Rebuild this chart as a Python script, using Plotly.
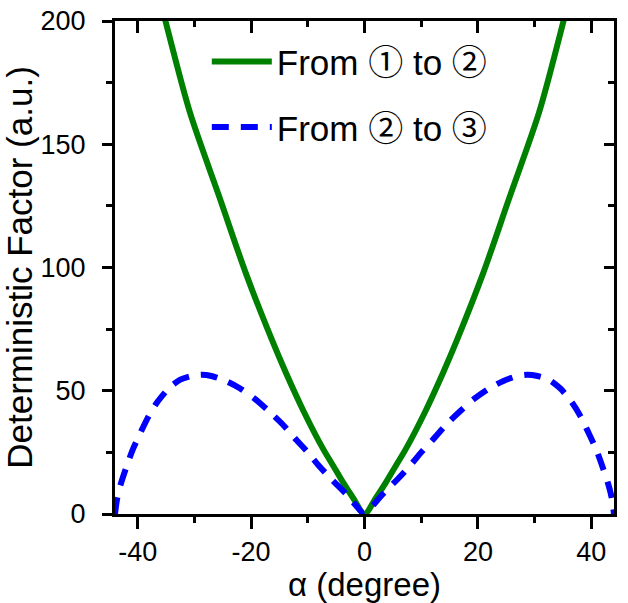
import plotly.graph_objects as go

# Data (symmetric curves, listed for alpha >= 0)
alpha_green = [0, 2, 3.7, 5.5, 7.2, 10.7, 13.9, 16.3, 20.9, 25.5, 30.8, 35.1, 36.5]
factor_green = [0, 6.5, 12.5, 19.5, 26, 41.5, 57.5, 70.5, 97.5, 128, 163, 200, 213]

alpha_blue = [0, 1.5, 3, 6, 8, 10, 12, 14.5, 17, 19.5, 22, 24.5, 27, 28.7, 30.5, 32.5, 34.5, 36.5, 38, 39.5, 40.8, 42, 43, 43.6, 44]
factor_blue = [0, 3.5, 7.5, 14.5, 19.5, 25, 30, 36.5, 42, 47, 51, 54, 56, 56.5, 56, 54.5, 51, 45.5, 40, 33, 26.5, 19, 12, 6.5, 0]

x_ticks = [-40, -20, 0, 20, 40]
x_tick_text = ["-40", "-20", "0", "20", "40"]
y_ticks = [0, 50, 100, 150, 200]
labels = ["From \u2460 to \u2461", "From \u2461 to \u2462"]


def mirror(xs, ys):
    xf = [-v for v in reversed(xs)] + list(xs[1:])
    yf = list(reversed(ys)) + list(ys[1:])
    return xf, yf


gx, gy = mirror(alpha_green, factor_green)
bx, by = mirror(alpha_blue, factor_blue)

FONT = "Liberation Sans, Arial, sans-serif"
LEG_FONT = "Liberation Sans, Noto Sans CJK JP, sans-serif"

fig = go.Figure()
fig.add_trace(go.Scatter(x=gx, y=gy, mode="lines", name=labels[0],
                         line=dict(color="#008000", width=6, shape="spline", smoothing=0.8),
                         legendgroup="a"))
fig.add_trace(go.Scatter(x=bx, y=by, mode="lines", name=labels[1],
                         line=dict(color="#0000FF", width=6, dash="17px,12px", shape="spline", smoothing=0.8),
                         legendgroup="b"))
# empty trace to activate the mirrored top/right axes
fig.add_trace(go.Scatter(x=[], y=[], xaxis="x2", yaxis="y2", showlegend=False, hoverinfo="skip"))

axis_common = dict(showline=True, linewidth=3, linecolor="black", showgrid=False,
                   zeroline=False, tickwidth=3, tickcolor="black", automargin=False)

fig.update_layout(
    width=628, height=603,
    margin=dict(l=115, r=14, t=21, b=89),
    paper_bgcolor="white", plot_bgcolor="white",
    font=dict(family=FONT, color="black"),
    showlegend=True,
    legend=dict(x=0.184, y=0.977, xanchor="left", yanchor="top",
                bgcolor="rgba(0,0,0,0)", font=dict(size=35, family=LEG_FONT),
                traceorder="grouped", tracegroupgap=17, itemwidth=60),
    xaxis=dict(range=[-44, 44], tickvals=x_ticks, ticktext=x_tick_text, ticks="outside", ticklen=12,
               minor=dict(dtick=10, tick0=0, ticks="outside", ticklen=6, tickwidth=3, tickcolor="black"),
               tickfont=dict(size=27), ticklabeloverflow="allow",
               title=dict(text="\u03b1 (degree)", font=dict(size=33), standoff=7),
               **axis_common),
    yaxis=dict(range=[0, 200], tickvals=y_ticks, ticks="outside", ticklen=10,
               minor=dict(dtick=25, tick0=0, ticks="outside", ticklen=6, tickwidth=3, tickcolor="black"),
               tickfont=dict(size=27), ticklabeloverflow="allow", ticklabelstandoff=11,
               title=dict(text="Deterministic Factor (a.u.)", font=dict(size=35), standoff=1),
               **axis_common),
    xaxis2=dict(range=[-44, 44], overlaying="x", side="top", anchor="y2", matches="x",
                tickvals=x_ticks, ticks="inside", ticklen=12, showticklabels=False,
                minor=dict(dtick=10, tick0=0, ticks="inside", ticklen=6, tickwidth=3, tickcolor="black"),
                **axis_common),
    yaxis2=dict(range=[0, 200], overlaying="y", side="right", anchor="x2", matches="y",
                tickvals=y_ticks, ticks="inside", ticklen=10, showticklabels=False,
                minor=dict(dtick=25, tick0=0, ticks="inside", ticklen=6, tickwidth=3, tickcolor="black"),
                **axis_common),
)

fig.write_html("out.html", config={"displayModeBar": False},
               post_script="document.body.style.margin='0';")
